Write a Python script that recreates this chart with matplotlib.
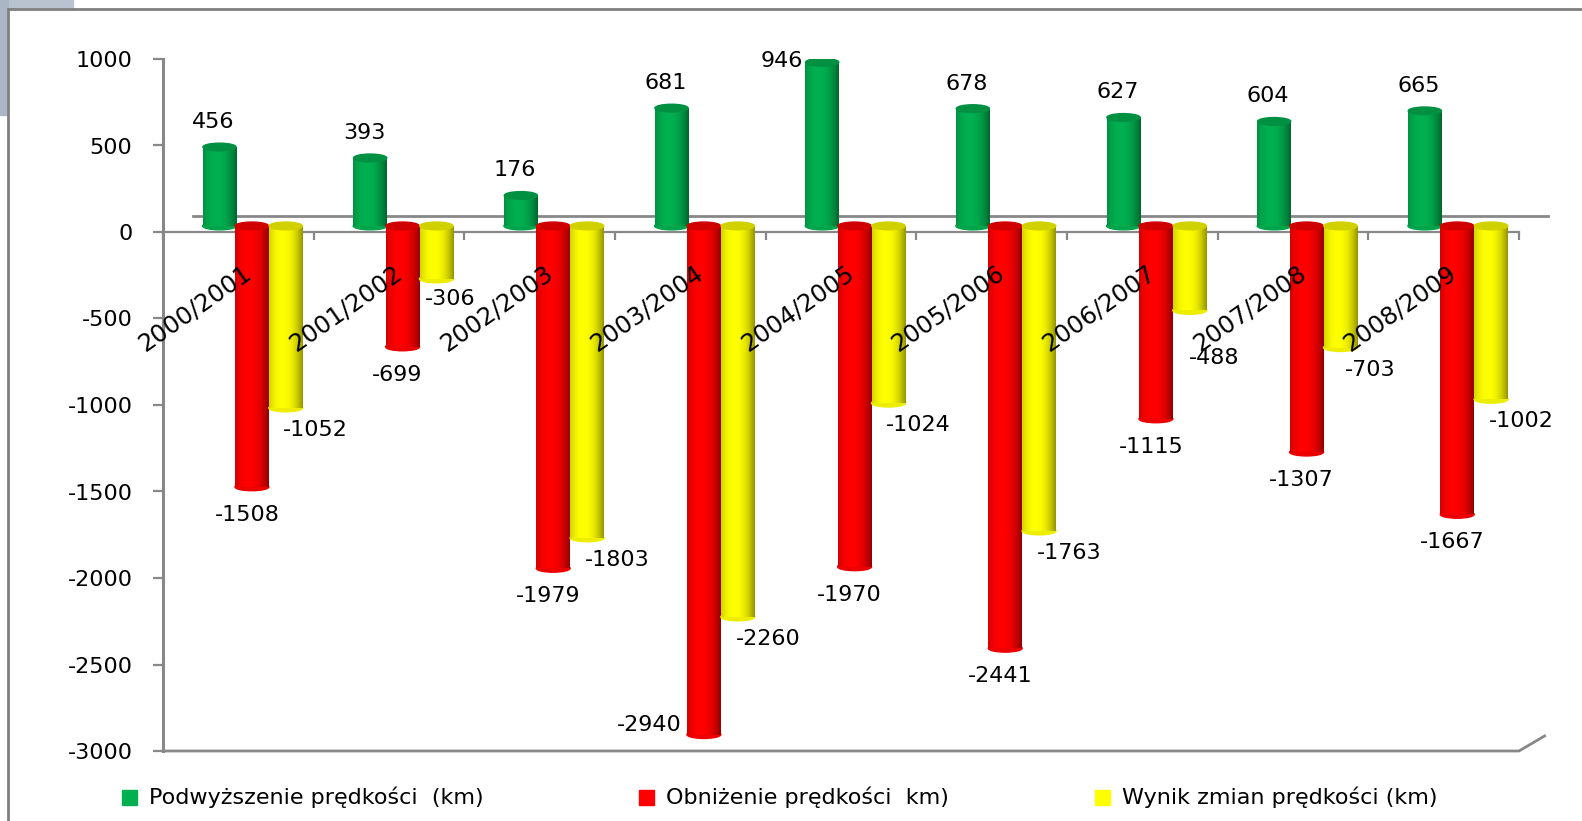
import numpy as np
import matplotlib.pyplot as plt
import matplotlib.colors as mcolors
from matplotlib.patches import Rectangle, Ellipse

# Zmiany prędkości na sieci kolejowej w kolejnych rozkładach jazdy
seasons = ['2000/2001', '2001/2002', '2002/2003', '2003/2004', '2004/2005',
           '2005/2006', '2006/2007', '2007/2008', '2008/2009']
increase = [456, 393, 176, 681, 946, 678, 627, 604, 665]
decrease = [-1508, -699, -1979, -2940, -1970, -2441, -1115, -1307, -1667]
net = [-1052, -306, -1803, -2260, -1024, -1763, -488, -703, -1002]

series_names = ['Podwyższenie prędkości  (km)', 'Obniżenie prędkości  km)',
                'Wynik zmian prędkości (km)']
series_colors = ['#00b050', '#ff0000', '#ffff00']

W, H = 1582, 821
plt.rcParams['font.family'] = ['DejaVu Sans']
plt.rcParams['axes.unicode_minus'] = False
fig = plt.figure(figsize=(W / 100, H / 100), dpi=100)

# outer frame and a bit of the background photo in the corner
fig.patches.append(Rectangle((0, 1 - 9 / H), 73 / W, 9 / H, transform=fig.transFigure,
                             color='#b9c3d0', zorder=0))
fig.patches.append(Rectangle((0, 1 - 115 / H), 8 / W, 115 / H, transform=fig.transFigure,
                             color='#aab6c6', zorder=0))
fig.patches.append(Rectangle((8 / W, -0.05), 1.1, 1 - 9 / H + 0.05, transform=fig.transFigure,
                             fill=False, edgecolor='#808080', linewidth=2, zorder=1))

ax = fig.add_axes([163 / W, 1 - 751 / H, 1356 / W, 692 / H])
ax.set_autoscale_on(False)
ax.set_xlim(0, 9)
ax.set_ylim(-3000, 1000)
UNITS_PER_PX = 4000 / 692

BASE = 35      # floor raised by the 3D depth
WIDTH = 0.225
CAP = 45
offsets = [0.375, 0.59, 0.815]
grey = '#888888'


def shade(color, n=64):
    rgb = np.array(mcolors.to_rgb(color))
    t = np.linspace(0, 1, n)
    k = 1 - 0.42 * (np.abs(t - 0.4) / 0.6) ** 2.2
    return (rgb[None, :] * k[:, None])[None, :, :]


def darker(color, f):
    return tuple(np.array(mcolors.to_rgb(color)) * f)


def cylinder(x, h, color, z):
    bar = ax.bar(x, h, WIDTH, bottom=BASE, color='none', edgecolor='none', zorder=z)[0]
    y0, y1 = sorted([BASE, BASE + h])
    im = ax.imshow(shade(color), extent=[x - WIDTH / 2, x + WIDTH / 2, y0, y1],
                   aspect='auto', interpolation='bilinear', zorder=z)
    im.set_clip_path(bar)
    ax.add_patch(Ellipse((x, y0), WIDTH, CAP, color=darker(color, 0.93), zorder=z - 0.1))
    ax.add_patch(Ellipse((x, y1), WIDTH * 0.98, CAP, color=darker(color, 0.82), zorder=z + 0.1))


def value_label(x, y, dx, dy, text):
    ly = y + dy * UNITS_PER_PX
    if ly > 990:
        ly, dx, dy = 990, -40, 0
        y = ly
    elif ly < -2850:
        ly, dx, dy = -2850, -55, 0
        y = ly
    ax.annotate(text, (x, y), xytext=(dx, dy), textcoords='offset pixels',
                ha='center', va='center', fontsize=16, zorder=6)


label_shift = [(-6, 25), (-5, -28), (30, -22)]
# labels moved off the rotated category names
nudges = {(2, 6): (24, -48), (2, 1): (14, -20)}
for s, (vals, color) in enumerate(zip([increase, decrease, net], series_colors)):
    for i, v in enumerate(vals):
        x = i + offsets[s]
        cylinder(x, v, color, 3 + s)
        dx, dy = nudges.get((s, i), label_shift[s])
        value_label(x, BASE + v, dx, dy, str(v))

# back and front zero lines, floor
ax.plot([0.2, 9.19], [92, 92], color=grey, lw=2, zorder=1, clip_on=False)
ax.plot([0, 9, 9.17], [-3000, -3000, -2913], color=grey, lw=2, zorder=1, clip_on=False)

for sp in ['top', 'right']:
    ax.spines[sp].set_visible(False)
ax.spines['left'].set_color(grey)
ax.spines['left'].set_linewidth(2.2)
ax.spines['bottom'].set_position(('data', 0))
ax.spines['bottom'].set_color(grey)
ax.spines['bottom'].set_linewidth(1.6)
ax.spines['bottom'].set_zorder(2)

ax.set_yticks(np.arange(-3000, 1001, 500))
ax.tick_params(axis='y', length=7, width=1.6, color=grey, direction='out',
               pad=15, labelsize=16)
ax.set_xticks(np.arange(0, 10))
ax.set_xticklabels([])
ax.tick_params(axis='x', length=6, width=1.6, color=grey, direction='out')

for i, name in enumerate(seasons):
    ax.text(i + 0.57, -222, name, rotation=35, rotation_mode='anchor',
            ha='right', va='center', fontsize=17.5, zorder=7)

# legend
for name, color, lx in zip(series_names, series_colors, [122, 639, 1095]):
    fig.patches.append(Rectangle((lx / W, 1 - 805 / H), 15 / W, 15 / H,
                                 transform=fig.transFigure, color=color))
    fig.text((lx + 27) / W, 1 - 797 / H, name, fontsize=16, va='center', ha='left')

fig.savefig('out.png', dpi=100)
